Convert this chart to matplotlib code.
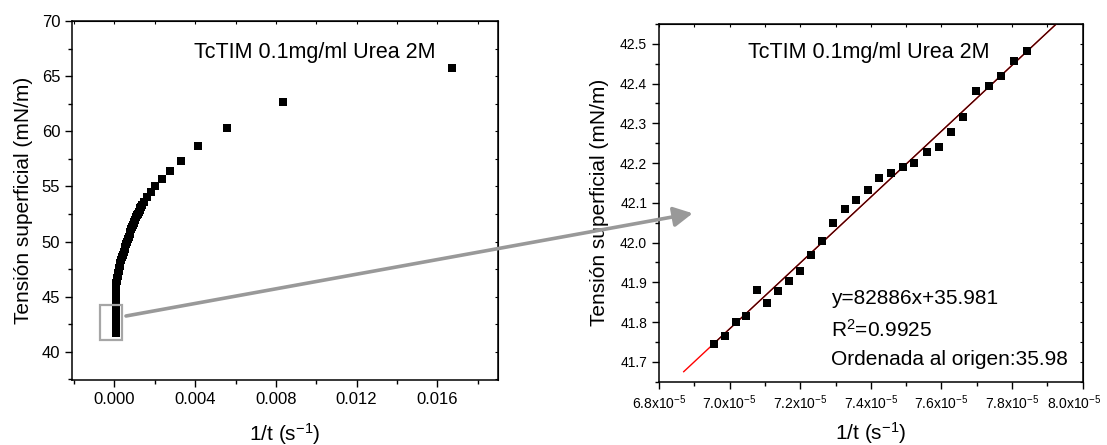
import matplotlib
matplotlib.use("Agg")
import matplotlib.pyplot as plt
import matplotlib.transforms as mtransforms
from matplotlib.patches import Rectangle, FancyArrowPatch, ArrowStyle
from matplotlib.ticker import MultipleLocator, FuncFormatter

plt.rcParams['font.family'] = ['Liberation Sans', 'DejaVu Sans']
plt.rcParams['mathtext.fontset'] = 'custom'
plt.rcParams['mathtext.rm'] = 'Liberation Sans'
plt.rcParams['mathtext.default'] = 'regular'

# sparse early points (left panel), 1/t in s^-1
x_early = [0.0167, 0.00834, 0.00557, 0.00415, 0.00332, 0.00274, 0.00236,
           0.00203, 0.00182, 0.00162, 0.00145]
y_early = [65.7, 62.63, 60.33, 58.64, 57.33, 56.37, 55.65, 55.04, 54.47,
           54.07, 53.62]

# dense middle part of the curve (left panel)
x_mid = [0.00138, 0.00133, 0.00129, 0.00125, 0.00120, 0.00116, 0.00113,
         0.00108, 0.00103, 0.00099, 0.00096, 0.00093, 0.00088, 0.00084,
         0.00079, 0.00075, 0.00071, 0.00067, 0.00063, 0.00059, 0.00055,
         0.00051, 0.00046, 0.00042, 0.00038, 0.00034, 0.00030, 0.00027,
         0.00024, 0.00021, 0.00018, 0.00016, 0.00014, 0.00012, 0.00010,
         0.000095, 0.00009, 0.000085, 0.000082, 0.00008, 0.000079,
         0.000079, 0.000078, 0.000078, 0.000078, 0.000077, 0.000077,
         0.000077, 0.000076]
y_mid = [53.35, 53.18, 53.0, 52.85, 52.66, 52.52, 52.41, 52.2, 51.98, 51.8,
         51.66, 51.52, 51.3, 51.1, 50.9, 50.68, 50.45, 50.22, 49.99, 49.78,
         49.55, 49.33, 49.08, 48.82, 48.56, 48.3, 48.03, 47.8, 47.56, 47.34,
         47.12, 46.9, 46.68, 46.45, 46.22, 45.98, 45.75, 45.52, 45.1, 44.85,
         44.6, 44.35, 44.1, 43.85, 43.6, 43.35, 43.1, 42.85, 42.6]

# last points (zoomed in right panel), x in units of 1e-5 s^-1
x_last = [6.957, 6.988, 7.017, 7.047, 7.077, 7.107, 7.138, 7.168, 7.198,
          7.230, 7.263, 7.294, 7.326, 7.358, 7.391, 7.423, 7.456, 7.491,
          7.523, 7.558, 7.592, 7.628, 7.662, 7.697, 7.734, 7.769, 7.805,
          7.842]
y_last = [41.746, 41.766, 41.801, 41.815, 41.882, 41.849, 41.879, 41.904,
          41.929, 41.968, 42.003, 42.050, 42.085, 42.107, 42.132, 42.163,
          42.176, 42.189, 42.201, 42.228, 42.240, 42.279, 42.317, 42.381,
          42.394, 42.418, 42.457, 42.481]

# right panel x ticks (units of 1e-5)
zoom_xticks = [6.8, 7.0, 7.2, 7.4, 7.6, 7.8, 8.0]

slope = 82886
intercept = 35.981
fit_x_start = 6.87e-5
label_title = "TcTIM 0.1mg/ml Urea 2M"
fit_lines = ["y=82886x+35.981", "R$^{2}$=0.9925", "Ordenada al origen:35.98"]

fig = plt.figure(figsize=(11.07, 4.45), dpi=100)
ax1 = fig.add_axes([0.0650, 0.1461, 0.3849, 0.8067])
ax2 = fig.add_axes([0.5953, 0.1422, 0.3827, 0.8039])

ms = 5.4
# left panel
ax1.plot(x_early, y_early, 's', color='black', ms=ms, mew=0)
ax1.plot(x_mid, y_mid, 's', color='black', ms=ms, mew=0)
ax1.plot([v * 1e-5 for v in x_last], y_last, 's', color='black', ms=ms, mew=0)
ax1.set_xlim(-0.0021, 0.019)
ax1.set_ylim(37.45, 70)
ax1.xaxis.set_major_locator(MultipleLocator(0.004))
ax1.xaxis.set_minor_locator(MultipleLocator(0.002))
ax1.yaxis.set_major_locator(MultipleLocator(5))
ax1.yaxis.set_minor_locator(MultipleLocator(2.5))
ax1.xaxis.set_major_formatter(FuncFormatter(lambda v, p: "%.3f" % v))
ax1.tick_params(labelsize=12, direction='out', length=5, width=1)
ax1.tick_params(which='minor', direction='out', length=3, width=1)
ax1.set_ylabel("Tensión superficial (mN/m)", fontsize=15, labelpad=6)
ax1.set_xlabel("1/t (s$^{-1}$)", fontsize=15, labelpad=10)
ax1.text(0.2864, 0.911, label_title, transform=ax1.transAxes, fontsize=15.5,
         va='center', ha='left')
ax1.add_patch(Rectangle((-0.000694, 41.08), 0.001076, 3.17, fill=False,
                        edgecolor='#a6a6a6', lw=1.6, zorder=4))

# right panel
fx = [fit_x_start, 8.0e-5]
ax2.plot(fx, [slope * v + intercept for v in fx], color='red', lw=1.0)
dx = [x_last[0] * 1e-5, 8.0e-5]
ax2.plot(dx, [slope * v + intercept for v in dx], color='#3a0505', lw=0.9)
ax2.plot([v * 1e-5 for v in x_last], y_last, 's', color='black', ms=ms, mew=0,
         zorder=3)
ax2.set_xlim(6.8e-5, 8.0e-5)
ax2.set_ylim(41.65, 42.55)
ax2.set_xticks([v * 1e-5 for v in zoom_xticks],
               ["%.1fx10$^{-5}$" % v for v in zoom_xticks])
ax2.xaxis.set_minor_locator(MultipleLocator(0.1e-5))
ax2.yaxis.set_major_locator(MultipleLocator(0.1))
ax2.yaxis.set_minor_locator(MultipleLocator(0.05))
ax2.yaxis.set_major_formatter(FuncFormatter(lambda v, p: "%.1f" % v))
ax2.tick_params(labelsize=10, direction='out', length=5, width=1)
ax2.tick_params(which='minor', direction='out', length=3, width=1)
ax2.set_ylabel("Tensión superficial (mN/m)", fontsize=15, labelpad=8)
ax2.set_xlabel("1/t (s$^{-1}$)", fontsize=15, labelpad=6)
ax2.text(0.210, 0.919, label_title, transform=ax2.transAxes, fontsize=15.5,
         va='center', ha='left')
for txt, yy in zip(fit_lines, [0.234, 0.144, 0.061]):
    ax2.text(0.406, yy, txt, transform=ax2.transAxes, fontsize=15,
             va='center', ha='left')

# keep the last x tick label inside the figure
last_lab = ax2.xaxis.get_major_ticks()[-1].label1
last_lab.set_horizontalalignment('right')
last_lab.set_transform(last_lab.get_transform() +
                       mtransforms.ScaledTranslation(0.19, 0, fig.dpi_scale_trans))

# inward ticks on top / right
for ax in (ax1, ax2):
    for side in ('top', 'right'):
        if side == 'top':
            sec = ax.secondary_xaxis('top')
            sec.xaxis.set_major_locator(ax.xaxis.get_major_locator())
            sec.xaxis.set_minor_locator(ax.xaxis.get_minor_locator())
        else:
            sec = ax.secondary_yaxis('right')
            sec.yaxis.set_major_locator(ax.yaxis.get_major_locator())
            sec.yaxis.set_minor_locator(ax.yaxis.get_minor_locator())
        sec.tick_params(which='both', direction='in', length=2.5, width=0.8,
                        labelbottom=False, labeltop=False, labelleft=False,
                        labelright=False)
    for s in ax.spines.values():
        s.set_linewidth(1.1)

# zoom arrow
arrow = FancyArrowPatch((126 / 1107, 1 - 316 / 445), (692.7 / 1107, 1 - 213.3 / 445),
                        transform=fig.transFigure,
                        arrowstyle=ArrowStyle('-|>', head_length=0.95, head_width=0.5),
                        mutation_scale=12, color='#999999', lw=2.6,
                        shrinkA=0, shrinkB=0)
fig.add_artist(arrow)

fig.savefig("out.png", dpi=100)
plt.close()
